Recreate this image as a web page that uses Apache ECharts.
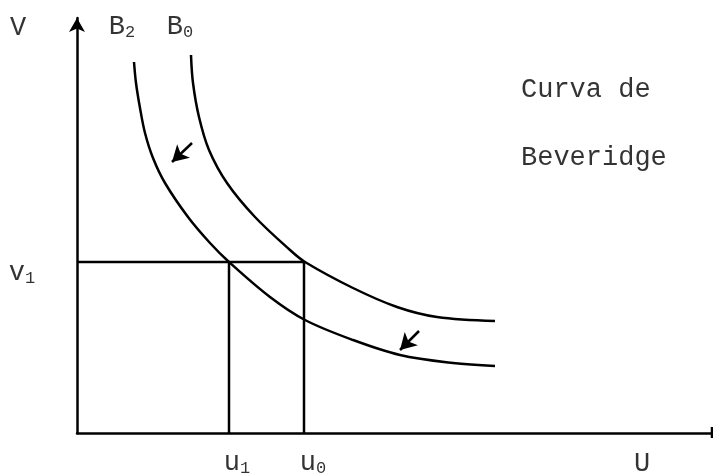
<!DOCTYPE html>
<html>
<head>
<meta charset="utf-8">
<script src="https://cdn.jsdelivr.net/npm/echarts@6/dist/echarts.min.js"></script>
<style>
  html, body { margin: 0; padding: 0; background: #fff; }
  #chart { width: 713px; height: 475px; }
</style>
</head>
<body>
<div id="chart"></div>
<script>
// curve B0 (u, v)
const b0U = [114, 116, 122, 132, 150, 178, 213, 228, 276, 320, 360, 418]
const b0V = [378, 350, 316, 283, 250, 216, 183, 171, 145, 126, 116, 112]
// curve B2 (u, v)
const b2U = [57, 59, 63, 68, 76, 88, 111, 133, 152, 193, 228, 276, 323, 376, 418]
const b2V = [371, 350, 325, 300, 275, 250, 216, 190, 171, 136, 113, 93, 78, 70, 67]
// equilibrium levels
const v1 = 171
const u1 = 152
const u0 = 227
const uMax = 635
const vMax = 415
// shift arrows [from, to]
const arrows = [
  [[115, 290], [95, 271]],
  [[342, 102], [323, 83]]
]
// text labels: [text, u, v, align]
const labels = [
  ['V', -59, 405, 'center'],
  ['B{s|2}', 45, 406, 'center'],
  ['B{s|0}', 103, 406, 'center'],
  ['v{s|1}', -55, 160, 'center'],
  ['u{s|1}', 160, -30, 'center'],
  ['u{s|0}', 236, -30, 'center'],
  ['U', 565, -31, 'center'],
  ['Curva de', 444, 343, 'left'],
  ['Beveridge', 444, 275, 'left']
]

const font = 'Liberation Mono'
const zip = (xs, ys) => xs.map((x, i) => [x, ys[i]])
const lineStyle = { color: '#000', width: 2.5 }

function plain(data) {
  return {
    type: 'line',
    data: data,
    showSymbol: false,
    symbol: 'none',
    clip: false,
    lineStyle: lineStyle,
    silent: true
  }
}

const chart = echarts.init(document.getElementById('chart'))
chart.setOption({
  animation: false,
  backgroundColor: '#fff',
  grid: { left: 77, right: 1, top: 18, bottom: 42 },
  xAxis: {
    type: 'value',
    min: 0,
    max: uMax,
    axisLine: { show: true, lineStyle: { color: '#000', width: 2.5 } },
    axisTick: { show: false },
    axisLabel: { show: false },
    splitLine: { show: false }
  },
  yAxis: {
    type: 'value',
    min: 0,
    max: vMax,
    axisLine: {
      show: true,
      symbol: ['none', 'arrow'],
      symbolSize: [12, 14],
      lineStyle: { color: '#000', width: 2.5 }
    },
    axisTick: { show: false },
    axisLabel: { show: false },
    splitLine: { show: false }
  },
  series: [
    Object.assign(plain(zip(b0U, b0V)), { smooth: 0.35 }),
    Object.assign(plain(zip(b2U, b2V)), { smooth: 0.35 }),
    plain([[0, v1], [u0, v1]]),
    plain([[u1, v1], [u1, 0]]),
    plain([[u0, v1], [u0, 0]]),
    plain([[uMax, -5], [uMax, 6]]),
    {
      type: 'line',
      data: [],
      markLine: {
        silent: true,
        symbol: ['none', 'arrow'],
        symbolSize: [14, 16],
        label: { show: false },
        lineStyle: { color: '#000', width: 2.5, type: 'solid' },
        data: arrows.map(a => [{ coord: a[0] }, { coord: a[1] }])
      }
    },
    {
      type: 'scatter',
      symbolSize: 0,
      clip: false,
      silent: true,
      data: labels.map(l => ({ name: l[0], value: [l[1], l[2]], label: { align: l[3] } })),
      label: {
        show: true,
        position: 'inside',
        formatter: p => p.name,
        color: '#000',
        fontFamily: font,
        fontSize: 27,
        lineHeight: 28,
        rich: {
          s: { fontFamily: font, fontSize: 17, lineHeight: 17, verticalAlign: 'bottom', color: '#000' }
        }
      }
    }
  ]
})
</script>
</body>
</html>
